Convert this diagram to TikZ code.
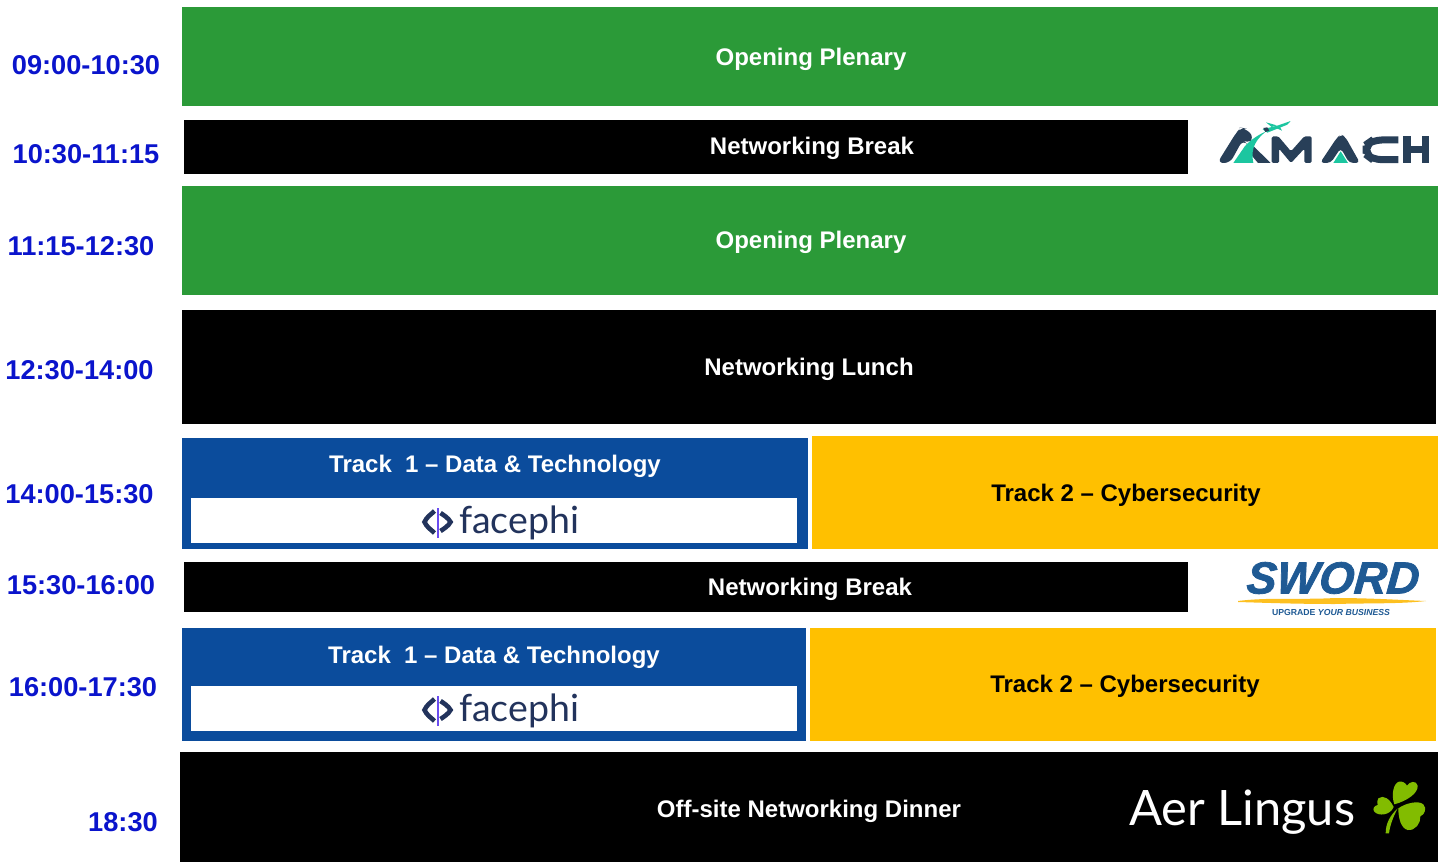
\documentclass[tikz,border=0pt]{standalone}
\usepackage{fontspec}
\setmainfont{Liberation Sans}
\newfontfamily\lightfont{Lato}
\newfontfamily\swordfont[FakeBold=1.6,FakeSlant=0.08]{Liberation Sans Bold Italic}
\usetikzlibrary{calc}
\definecolor{plgreen}{HTML}{2B9A38}
\definecolor{trblue}{HTML}{0B4C9C}
\definecolor{tryellow}{HTML}{FFC000}
\definecolor{timeblue}{HTML}{0A14CC}
\definecolor{amdark}{HTML}{283F58}
\definecolor{amteal}{HTML}{1CC6A0}
\definecolor{swblue}{HTML}{1F5A94}
\definecolor{swyellow}{HTML}{FDC020}
\definecolor{fpdark}{HTML}{22335C}
\definecolor{fpviolet}{HTML}{6A4CF0}
\definecolor{algreen}{HTML}{82BC00}
\tikzset{
  box/.style={inner sep=0pt,outer sep=0pt,anchor=north west},
  greenbox/.style={box,fill=plgreen},
  blackbox/.style={box,fill=black},
  bluebox/.style={box,fill=trblue},
  yellowbox/.style={box,fill=tryellow},
  whitebox/.style={box,fill=white},
  timelabel/.style={text=timeblue,font=\fontsize{27.2}{30}\selectfont\bfseries,inner sep=0pt},
  wlabel/.style={text=white,font=\fontsize{24}{28}\selectfont\bfseries,inner sep=0pt},
  klabel/.style={text=black,font=\fontsize{24}{28}\selectfont\bfseries,inner sep=0pt},
  fplabel/.style={text=fpdark,font=\fontsize{37.5}{40}\selectfont\lightfont,inner sep=0pt,anchor=base west},
}
\newcommand{\slot}[6]{% style,name,x1,y1,x2,y2
  \pgfmathsetlengthmacro{\slotw}{#5-#3}\pgfmathsetlengthmacro{\sloth}{#6-#4}
  \node[#1,minimum width=\slotw,minimum height=\sloth] (#2) at (#3,#4) {};}
\newcommand{\fpicon}[2]{% icon centred at x,y
  \begin{scope}[shift={(#1,#2)}]
    \draw[fpdark,line width=4.6pt,line cap=butt] (-3,-11) .. controls (-6,-8) and (-11,-5) .. (-13,0) .. controls (-11,5) and (-6,8) .. (-3,11);
    \draw[fpdark,line width=4.6pt,line cap=butt] (3,-9) .. controls (6,-7) and (11,-4) .. (13,0) .. controls (11,4) and (6,7) .. (3,9);
    \draw[fpviolet,line width=2pt] (0,-14) -- (0,16);
  \end{scope}}
\begin{document}
\begin{tikzpicture}[x=1pt,y=-1pt]
\useasboundingbox (0,0) rectangle (1444,862);
\fill[white] (0,0) rectangle (1444,862);
\slot{greenbox}{g1}{182}{7}{1438}{106}
\slot{blackbox}{b1}{184}{120}{1188}{174}
\slot{greenbox}{g2}{182}{186}{1438}{295}
\slot{blackbox}{lunch}{182}{310}{1436}{424}
\slot{bluebox}{t1a}{182}{438}{808}{549}
\slot{whitebox}{w1}{191}{498}{797}{543}
\slot{yellowbox}{t2a}{812}{436}{1438}{549}
\slot{blackbox}{b2}{184}{562}{1188}{612}
\slot{bluebox}{t1b}{182}{628}{806}{741}
\slot{whitebox}{w2}{191}{686}{797}{731}
\slot{yellowbox}{t2b}{810}{628}{1436}{741}
\slot{blackbox}{dinner}{180}{752}{1438}{862}

\node[wlabel] (l1) at (811,59) {Opening Plenary};
\node[wlabel] (l2) at (812,148) {Networking Break};
\node[wlabel] (l3) at (811,242) {Opening Plenary};
\node[wlabel] (l4) at (809,369) {Networking Lunch};
\node[wlabel] (l5) at (495,466) {Track\ \ 1 -- Data \& Technology};
\node[klabel] (l6) at (1126,495) {Track 2 -- Cybersecurity};
\node[wlabel] (l7) at (810,589) {Networking Break};
\node[wlabel] (l8) at (494,657) {Track\ \ 1 -- Data \& Technology};
\node[klabel] (l9) at (1125,686) {Track 2 -- Cybersecurity};
\node[wlabel] (l10) at (809,811) {Off-site Networking Dinner};

\node[timelabel] (t1) at (86,65) {09:00-10:30};
\node[timelabel] (t2) at (86,154) {10:30-11:15};
\node[timelabel] (t3) at (81,246) {11:15-12:30};
\node[timelabel] (t4) at (79.5,370) {12:30-14:00};
\node[timelabel] (t5) at (79.5,494) {14:00-15:30};
\node[timelabel] (t6) at (81,585) {15:30-16:00};
\node[timelabel] (t7) at (83,687) {16:00-17:30};
\node[timelabel] (t8) at (123,822) {18:30};

% facephi
\fpicon{437.5}{522}
\node[fplabel] (fp1) at (459,533) {facephi};
\fpicon{437.5}{710}
\node[fplabel] (fp2) at (459,721) {facephi};

% AMACH logo, first part (coordinates of a 3x crop)
\begin{scope}[shift={(1210,118)},x=0.3333pt,y=-0.3333pt]
  \fill[amdark,rounded corners=6pt] (22,135) -- (78,45) -- (92,29) -- (106,31) -- (133,58) -- (112,78) -- (98,66) -- (60,135) -- cycle;
  \fill[amdark] (128,82) -- (182,135) -- (144,135) -- (118,104) -- cycle;
  \fill[amteal] (70,135) -- (105,84) .. controls (122,66) and (142,52) .. (168,40) .. controls (142,62) and (120,86) .. (130,135) -- cycle;
  \fill[amteal] (158,34) -- (205,22) -- (242,9) -- (232,20) -- (212,28) -- (172,44) -- cycle;
  \fill[amteal] (200,22) -- (168,13) -- (185,27) -- cycle;
  \fill[amteal] (198,30) -- (216,38) -- (210,27) -- cycle;
  \fill[amdark] (160,30) -- (172,28) -- (178,38) -- (166,42) -- cycle;
  \fill[amdark,rounded corners=1.5pt] (185,135) -- (185,55) -- (205,55) -- (243,100) -- (283,55) -- (305,55) -- (305,135) -- (283,135) -- (283,92) -- (243,135) -- (207,92) -- (207,135) -- cycle;
\end{scope}
% AMACH logo, second part
\begin{scope}[shift={(1320,118)},x=0.3333pt,y=-0.3333pt]
  \fill[amdark,rounded corners=4pt] (0,135) -- (50,60) -- (62,50) -- (75,55) -- (120,135) -- (88,135) -- (62,90) -- (32,135) -- cycle;
  \fill[amteal] (40,135) -- (62,100) -- (84,135) -- cycle;
  \draw[amdark,line width=7pt,rounded corners=9pt] (235,66) -- (158,66) -- (138,80) -- (138,110) -- (158,125) -- (235,125);
  \draw[amdark,line width=7.5pt] (261,55) -- (261,135) (316,55) -- (316,135) (261,95) -- (316,95);
\end{scope}

% SWORD logo
\node[text=swblue,font=\fontsize{45}{48}\selectfont\swordfont,inner sep=0pt] (sword) at (1332,578) {SWORD};
\fill[swyellow] (1238,601) .. controls (1270,597) and (1300,600) .. (1335,598) .. controls (1370,598) and (1400,600) .. (1426,601) .. controls (1400,604) and (1370,603) .. (1335,604) .. controls (1300,604) and (1270,603) .. (1238,602) -- cycle;
\node[text=swblue,font=\fontsize{8.7}{9}\selectfont\bfseries,inner sep=0pt] (swtag) at (1331,612) {UPGRADE \textit{YOUR BUSINESS}};

% Aer Lingus logo
\node[text=white,font=\fontsize{48.8}{50}\selectfont\lightfont,inner sep=0pt,anchor=base west] (aer) at (1129,825) {Aer Lingus};
\begin{scope}[shift={(1365,775)},x=0.3333pt,y=-0.3333pt]
  \fill[algreen] (88,88) .. controls (78,60) and (85,25) .. (102,20) .. controls (112,18) and (122,24) .. (126,32) .. controls (134,18) and (155,16) .. (158,32) .. controls (160,55) and (125,78) .. (88,88) -- cycle;
  \fill[algreen] (86,96) .. controls (75,72) and (55,58) .. (40,70) .. controls (36,76) and (36,84) .. (38,90) .. controls (26,92) and (22,104) .. (28,110) .. controls (40,124) and (75,122) .. (86,96) -- cycle;
  \fill[algreen] (100,100) .. controls (120,85) and (160,75) .. (175,88) .. controls (186,100) and (180,118) .. (166,124) .. controls (168,145) and (150,168) .. (128,165) .. controls (108,160) and (100,130) .. (100,100) -- cycle;
  \fill[algreen] (62,175) .. controls (62,145) and (75,122) .. (98,100) .. controls (85,125) and (75,150) .. (72,175) -- cycle;
\end{scope}
\end{tikzpicture}
\end{document}
